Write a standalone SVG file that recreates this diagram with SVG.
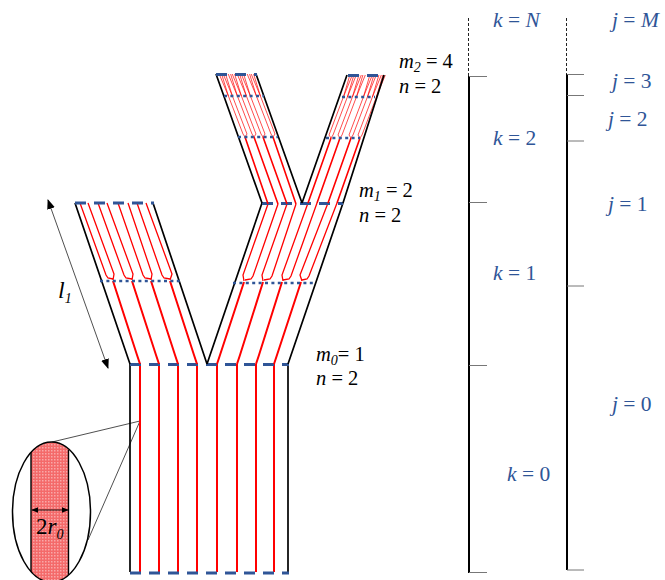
<svg xmlns="http://www.w3.org/2000/svg" width="665" height="580" viewBox="0 0 665 580">
<style>
text{font-family:"Liberation Serif","Times New Roman",serif;font-size:20.500px;fill:#000}
.b text{fill:#2f5597;font-size:21.500px}
.i{font-style:italic}
.s{font-size:14px;font-style:italic}
.wall{fill:none;stroke:#000;stroke-width:1.700}
.r1{fill:none;stroke:#f00;stroke-width:2;stroke-linejoin:miter}
.r3{fill:none;stroke:#f00;stroke-width:1.300;stroke-linejoin:miter}
.r4{fill:none;stroke:#f00;stroke-width:1.600}
.r2{fill:none;stroke:#f00;stroke-width:.7}
.dash{stroke:#2f5597;stroke-width:2.800;stroke-dasharray:11 8}
.dot{stroke:#2f5597;stroke-width:2.500;stroke-dasharray:3 3.400}
.thin{fill:none;stroke:#222;stroke-width:.8}
.tick{stroke:#777;stroke-width:1}
.axis{stroke:#000;stroke-width:2}
.ad{stroke:#222;stroke-width:1;stroke-dasharray:3 2}
</style>
<defs>
<marker id="ah" viewBox="0 0 10 10" refX="9" refY="5" markerWidth="10" markerHeight="10" orient="auto-start-reverse" markerUnits="userSpaceOnUse"><path d="M0 1L10 5L0 9Z" fill="#000"/></marker>
<marker id="as" viewBox="0 0 10 10" refX="9" refY="5" markerWidth="7" markerHeight="7" orient="auto-start-reverse" markerUnits="userSpaceOnUse"><path d="M0 1L10 5L0 9Z" fill="#000"/></marker>
<pattern id="dither" width="3" height="3" patternUnits="userSpaceOnUse"><rect width="3" height="3" fill="#f46a6a"/><rect width="1.500" height="1.500" fill="#f9a8a8"/></pattern>
<clipPath id="oc"><ellipse cx="51.500" cy="512" rx="39" ry="70"/></clipPath>
</defs>
<g id="connectors">
<path class="thin" d="M52 442L140 421L88 540"/>
<path class="thin" d="M48 200L108 368" marker-start="url(#ah)" marker-end="url(#ah)"/>
</g>
<g id="trunk">
<path class="r1" d="M140 572V364M159 572V364M178 572V364M197 572V364M217 572V364M237 572V364M256 572V364M274 572V364"/>
<path class="wall" d="M130 572V364M288 572V364"/>
<path class="dash" d="M130 364.500H289M130 573H289"/>
</g>
<g id="branch-left">
<path class="r1" d="M140 364L137 355L113 281M159 364L156 355L132 281M178 364L175 355L151 281M197 364L194 355L170 281"/>
<path class="r3" d="M80 203L106 275L108 278L113 279M88 203L114 274L113 280M98 203L124 275L126 278L132 279M107 203L133 274L132 280M118 203L143 275L145 278L151 279M128 203L152 274L151 280M137 203L162 275L164 278L170 279M146 203L172 274L170 280"/>
<path class="wall" d="M75 203L130 364M153 203L207 364"/>
<path class="dash" d="M75 203H154"/>
<path class="dot" d="M100 281H181"/>
</g>
<g id="branch-right">
<path class="r1" d="M217 364L220 355L244 282M237 364L240 355L263 282M256 364L259 355L282 282M274 364L277 355L301 282"/>
<path class="r3" d="M268 204L243 275L244 281M278 204L253 276L251 279L245 280M287 204L262 275L263 281M296 204L272 276L270 279L264 280M308 203L282 275L283 281M317 203L291 276L289 279L283 280M328 203L300 275L302 281M337 203L309 276L307 279L302 280"/>
<path class="wall" d="M207 364L262 203M288 364L343 203"/>
<path class="dash" d="M262 203.500H343"/>
<path class="dot" d="M233 283H315"/>
</g>
<g id="branch-upper-left">
<path class="r4" d="M268 204L245 137M278 204L254 137M287 204L263 137M296 204L273 137"/>
<path class="r2" d="M245 137L243 134L228.400 96L219.200 74M228.400 96L221.600 74M245 137L247 134L232.400 96L223.200 74M232.400 96L225.600 74M254 137L252 134L237.400 96L228.200 74M237.400 96L230.600 74M254 137L256 134L241.400 96L232.200 74M241.400 96L234.600 74M263 137L261 134L246.400 96L237.200 74M246.400 96L239.600 74M263 137L265 134L250.400 96L241.200 74M250.400 96L243.600 74M273 137L271 134L256.400 96L247.200 74M256.400 96L249.600 74M273 137L275 134L260.400 96L251.200 74M260.400 96L253.600 74"/>
<path class="wall" d="M216 74L262 203M256 74L302 203"/>
<path class="dash" d="M216 74.500H257"/>
<path class="dot" d="M224 96H264M238 137H278"/>
</g>
<g id="branch-upper-right">
<path class="r4" d="M308 203L331 138M317 203L340 138M328 203L351 138M337 203L360 138"/>
<path class="r2" d="M331 138L329 135L343.400 97L349.900 75M343.400 97L352.300 75M331 138L333 135L347.400 97L353.900 75M347.400 97L356.300 75M340 138L338 135L352.400 97L358.900 75M352.400 97L361.300 75M340 138L342 135L356.400 97L362.900 75M356.400 97L365.300 75M351 138L349 135L363.400 97L369.900 75M363.400 97L372.300 75M351 138L353 135L367.400 97L373.900 75M367.400 97L376.300 75M360 138L358 135L372.400 97L378.900 75M372.400 97L381.300 75M360 138L362 135L376.400 97L382.900 75M376.400 97L385.300 75"/>
<path class="wall" d="M302 203L347 75M343 203L384 75"/>
<path class="dash" d="M348 75.500H378"/>
<path class="dot" d="M342 97H375M326 138H360"/>
</g>
<g id="detail">
<rect x="31" y="440" width="37.500" height="142" fill="url(#dither)" clip-path="url(#oc)"/>
<path d="M31 450V575M68.500 450V575" stroke="#000" stroke-width="1.400" clip-path="url(#oc)"/>
<ellipse cx="51.500" cy="512" rx="39" ry="70" fill="none" stroke="#000" stroke-width="1.500"/>
<path d="M32 510H68" stroke="#000" stroke-width=".9" marker-start="url(#as)" marker-end="url(#as)"/>
<text x="36" y="534" style="font-size:23px">2<tspan class="i">r</tspan><tspan class="s" dy="5">0</tspan></text>
</g>
<g id="axis-k">
<path class="ad" d="M468.500 18V76"/>
<path class="axis" d="M469 76V573"/>
<path class="tick" d="M469 76.500H487M469 202.500H487M469 365.500H487M469 572.500H487"/>
</g>
<g id="axis-j">
<path class="ad" d="M566.500 18V74"/>
<path class="axis" d="M567 74V570"/>
<path class="tick" d="M567 74.500H584M567 95.500H584M567 141H584M567 286H584M567 570H584"/>
</g>
<g id="labels-k" class="b">
<text x="493" y="27"><tspan class="i">k</tspan> = <tspan class="i">N</tspan></text>
<text x="493" y="145"><tspan class="i">k</tspan> = 2</text>
<text x="493" y="280"><tspan class="i">k</tspan> = 1</text>
<text x="507" y="481"><tspan class="i">k</tspan> = 0</text>
</g>
<g id="labels-j" class="b">
<text x="612" y="27"><tspan class="i">j</tspan> = <tspan class="i">M</tspan></text>
<text x="612" y="88"><tspan class="i">j</tspan> = 3</text>
<text x="608" y="126"><tspan class="i">j</tspan> = 2</text>
<text x="608" y="211"><tspan class="i">j</tspan> = 1</text>
<text x="612" y="411"><tspan class="i">j</tspan> = 0</text>
</g>
<g id="labels-m">
<text x="399" y="68"><tspan class="i">m</tspan><tspan class="s" dy="4">2</tspan><tspan dy="-4"> = 4</tspan></text>
<text x="399" y="93"><tspan class="i">n</tspan> = 2</text>
<text x="359" y="197"><tspan class="i">m</tspan><tspan class="s" dy="4">1</tspan><tspan dy="-4"> = 2</tspan></text>
<text x="359" y="222"><tspan class="i">n</tspan> = 2</text>
<text x="316" y="361"><tspan class="i">m</tspan><tspan class="s" dy="4">0</tspan><tspan dy="-4">= 1</tspan></text>
<text x="316" y="385"><tspan class="i">n</tspan> = 2</text>
<text x="58" y="298" style="font-size:24px" class="i">l<tspan class="s" dy="5">1</tspan></text>
</g>
</svg>
